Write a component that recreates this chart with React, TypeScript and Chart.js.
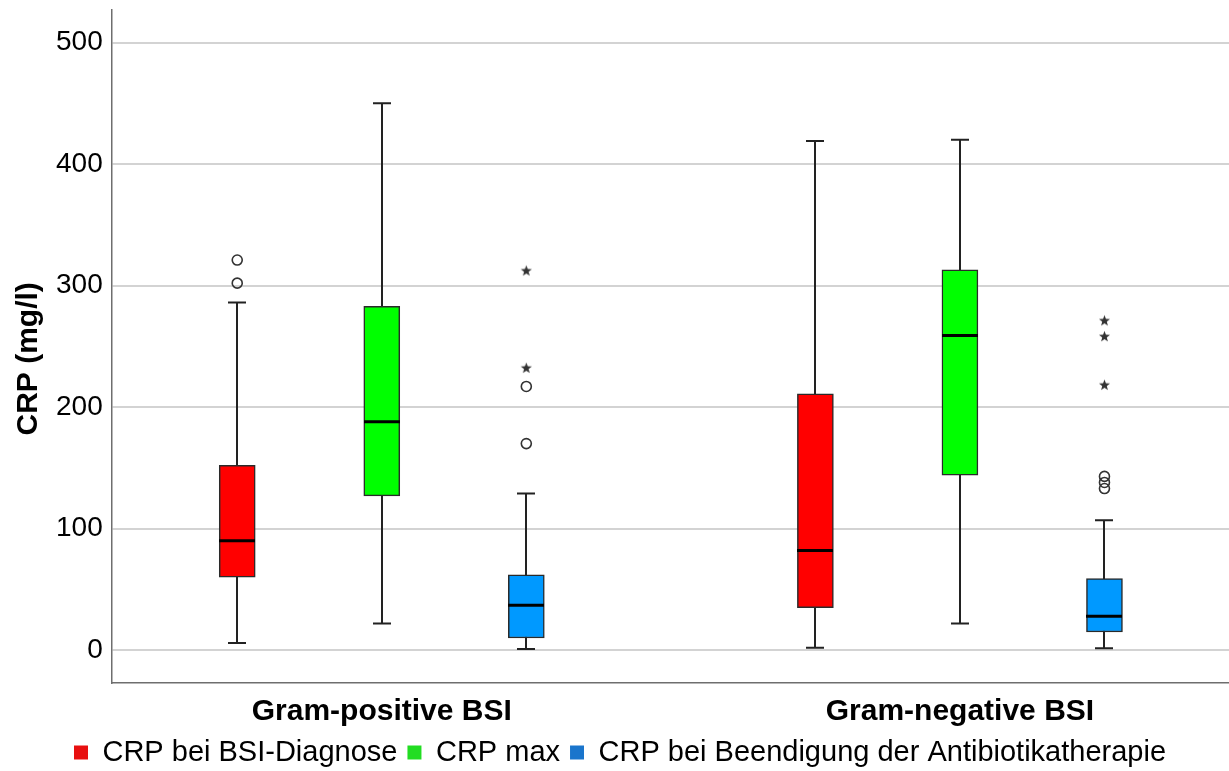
import React, { useEffect, useRef } from "react";
import { Chart, registerables } from "chart.js";

Chart.register(...registerables);

const FONT = "'Liberation Sans', Arial, sans-serif";

const groups = ["Gram-positive BSI", "Gram-negative BSI"];
const seriesNames = [
  "CRP bei BSI-Diagnose",
  "CRP max",
  "CRP bei Beendigung der Antibiotikatherapie",
];
const boxColors = ["#ff0000", "#00ff00", "#0099ff"];
const legendColors = ["#e81010", "#22dd22", "#1a75cc"];
const seriesOffsets = [-0.25, 0, 0.25];

// values per series: [Gram-positive, Gram-negative]
const whiskerLow = [
  [6, 2],
  [22, 22],
  [1, 1.5],
];
const q1 = [
  [60, 35],
  [127, 144],
  [10, 15],
];
const median = [
  [90, 82],
  [188, 259],
  [37, 28],
];
const q3 = [
  [152, 211],
  [283, 313],
  [62, 59],
];
const whiskerHigh = [
  [286, 419],
  [450, 420],
  [129, 107],
];
const outlierCircles = [
  [[302, 321], []],
  [[], []],
  [[170, 217], [133, 138, 143]],
];
const outlierStars = [
  [[], []],
  [[], []],
  [[232, 312], [218, 258, 271]],
];
const yTicks = [0, 100, 200, 300, 400, 500];

function makeStar(): HTMLCanvasElement {
  const c = document.createElement("canvas");
  c.width = 13;
  c.height = 13;
  const ctx = c.getContext("2d")!;
  ctx.fillStyle = "#333";
  ctx.beginPath();
  for (let i = 0; i < 10; i++) {
    const r = i % 2 === 0 ? 5.8 : 2.4;
    const a = -Math.PI / 2 + (i * Math.PI) / 5;
    ctx.lineTo(6.5 + r * Math.cos(a), 6.5 + r * Math.sin(a));
  }
  ctx.closePath();
  ctx.fill();
  return c;
}

const BOX_W = 36;

const boxplotPlugin = {
  id: "boxplotLines",
  beforeDatasetsDraw(chart: any) {
    const ctx = chart.ctx;
    const xs = chart.scales.x;
    const ys = chart.scales.y;
    ctx.save();
    ctx.strokeStyle = "#222";
    ctx.lineWidth = 2;
    for (let s = 0; s < seriesNames.length; s++) {
      for (let g = 0; g < groups.length; g++) {
        const x = Math.round(xs.getPixelForValue(g + seriesOffsets[s]));
        const yl = ys.getPixelForValue(whiskerLow[s][g]);
        const yh = ys.getPixelForValue(whiskerHigh[s][g]);
        ctx.beginPath();
        ctx.moveTo(x, yl);
        ctx.lineTo(x, yh);
        ctx.moveTo(x - BOX_W / 4, yl);
        ctx.lineTo(x + BOX_W / 4, yl);
        ctx.moveTo(x - BOX_W / 4, yh);
        ctx.lineTo(x + BOX_W / 4, yh);
        ctx.stroke();
      }
    }
    ctx.restore();
  },
  afterDatasetsDraw(chart: any) {
    const ctx = chart.ctx;
    const xs = chart.scales.x;
    const ys = chart.scales.y;
    ctx.save();
    ctx.strokeStyle = "#000";
    ctx.lineWidth = 3;
    for (let s = 0; s < seriesNames.length; s++) {
      for (let g = 0; g < groups.length; g++) {
        const x = Math.round(xs.getPixelForValue(g + seriesOffsets[s]));
        const ym = ys.getPixelForValue(median[s][g]);
        ctx.beginPath();
        ctx.moveTo(x - BOX_W / 2, ym);
        ctx.lineTo(x + BOX_W / 2, ym);
        ctx.stroke();
      }
    }
    ctx.restore();
  },
};

export default function App() {
  const ref = useRef<HTMLCanvasElement | null>(null);

  useEffect(() => {
    if (!ref.current) return;
    const star = makeStar();

    const boxSets = seriesNames.map((name, s) => ({
      type: "bar" as const,
      label: name,
      data: groups.map((_, g) => ({
        x: g + seriesOffsets[s],
        y: [q1[s][g], q3[s][g]],
      })),
      backgroundColor: boxColors[s],
      borderColor: "#2a2a2a",
      borderWidth: 1.5,
      borderSkipped: false,
      barThickness: BOX_W,
      grouped: false,
      order: 1,
    }));

    const circlePts: { x: number; y: number }[] = [];
    const starPts: { x: number; y: number }[] = [];
    for (let s = 0; s < seriesNames.length; s++) {
      for (let g = 0; g < groups.length; g++) {
        outlierCircles[s][g].forEach((v) =>
          circlePts.push({ x: g + seriesOffsets[s], y: v })
        );
        outlierStars[s][g].forEach((v) =>
          starPts.push({ x: g + seriesOffsets[s], y: v })
        );
      }
    }

    const chart = new Chart(ref.current, {
      type: "bar",
      data: {
        datasets: [
          ...boxSets,
          {
            type: "scatter",
            label: "outliers",
            data: circlePts,
            pointStyle: "circle",
            pointRadius: 5,
            pointBorderWidth: 1.6,
            pointBorderColor: "#333",
            pointBackgroundColor: "rgba(255,255,255,0)",
            showLine: false,
            order: 0,
          },
          {
            type: "scatter",
            label: "extremes",
            data: starPts,
            pointStyle: star,
            pointRadius: 6,
            showLine: false,
            order: 0,
          },
        ] as any,
      },
      options: {
        animation: false,
        responsive: false,
        layout: {
          autoPadding: false,
          padding: { left: 11, top: 0, right: 0, bottom: -6 },
        },
        plugins: {
          tooltip: { enabled: false },
          legend: {
            position: "bottom",
            labels: {
              font: { family: FONT, size: 29, lineHeight: 1.0 },
              color: "#000",
              boxWidth: 14,
              boxHeight: 14,
              padding: 10,
              filter: (item: any) => item.datasetIndex < 3,
              generateLabels: () =>
                seriesNames.map((n, i) => ({
                  text: n,
                  fillStyle: legendColors[i],
                  strokeStyle: legendColors[i],
                  lineWidth: 0,
                  datasetIndex: i,
                  hidden: false,
                })),
            },
          },
        },
        scales: {
          x: {
            type: "linear",
            min: -0.4671,
            max: 1.4654,
            offset: false,
            grid: { display: false, drawTicks: false },
            border: { display: true, color: "#6e6e6e", width: 1.5 },
            afterBuildTicks: (scale: any) => {
              scale.ticks = groups.map((_, i) => ({ value: i }));
            },
            afterFit: (scale: any) => {
              scale.height = 45;
            },
            ticks: {
              autoSkip: false,
              maxRotation: 0,
              padding: 24,
              color: "#000",
              font: { family: FONT, size: 30, weight: "bold", lineHeight: 0.33 },
              callback: (v: any) => groups[v as number] ?? "",
            },
          },
          y: {
            type: "linear",
            min: -27,
            max: 527,
            afterBuildTicks: (scale: any) => {
              scale.ticks = yTicks.map((v) => ({ value: v }));
            },
            grid: { color: "#d3d3d3", lineWidth: 2, drawTicks: false },
            border: { display: true, color: "#6e6e6e", width: 1.5 },
            ticks: {
              padding: 9,
              color: "#000",
              font: { family: FONT, size: 28, lineHeight: 0.05 },
            },
            title: {
              display: true,
              text: "CRP (mg/l)   ",
              color: "#000",
              font: { family: FONT, size: 30, weight: "bold" },
              padding: { top: 0, bottom: 0 },
            },
          },
        },
      } as any,
      plugins: [boxplotPlugin],
    });
    return () => chart.destroy();
  }, []);

  return (
    <div style={{ position: "absolute", left: 0, top: 0, width: 1229, height: 771 }}>
      <canvas ref={ref} width={1229} height={771} />
    </div>
  );
}
